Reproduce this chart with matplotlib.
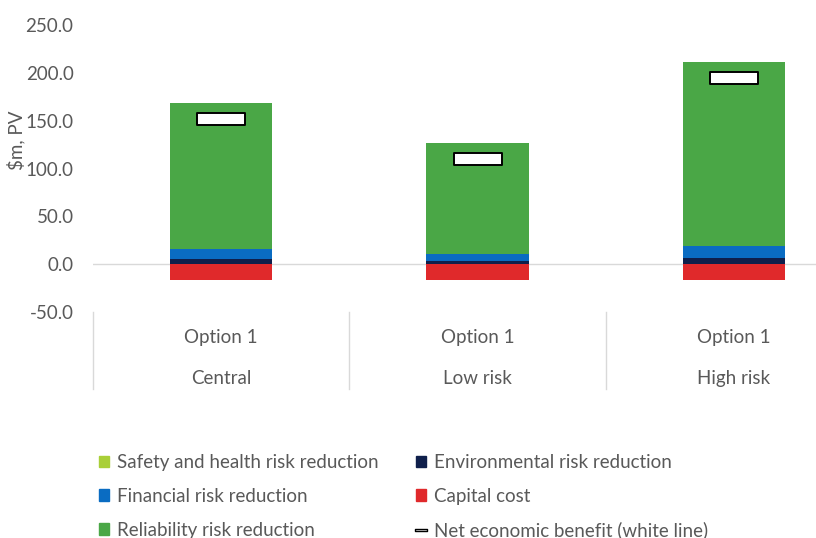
import matplotlib.pyplot as plt
import numpy as np
from matplotlib.lines import Line2D
from matplotlib.patches import Patch
from matplotlib.path import Path

plt.rcParams['font.family'] = ['Lato', 'DejaVu Sans']

# data ($m, PV)
options = ['Option 1', 'Option 1', 'Option 1']
scenarios = ['Central', 'Low risk', 'High risk']
safety = [0.3, 0.3, 0.3]
environmental = [5.0, 3.0, 6.5]
financial = [10.5, 7.5, 12.5]
reliability = [153.0, 116.0, 192.0]
capital = [-16.5, -16.5, -16.5]
net_benefit = [152.0, 110.0, 195.0]

c_safety = '#a9cf38'
c_env = '#0f1f4b'
c_fin = '#0a6cc2'
c_cap = '#e0292b'
c_rel = '#4aa746'
txt = '#595959'
fs = 13.5

fig = plt.figure(figsize=(8.16, 5.38), dpi=100)
ax = fig.add_axes([93 / 816, 226 / 538, 769 / 816, 287 / 538])

x = np.arange(len(scenarios))
w = 0.4
bottom = np.zeros(len(x))
for vals, col in [(safety, c_safety), (environmental, c_env), (financial, c_fin), (reliability, c_rel)]:
    ax.bar(x, vals, w, bottom=bottom, color=col, zorder=3)
    bottom += np.array(vals)
ax.bar(x, capital, w, color=c_cap, zorder=3)

# white line marker for net benefit
rect = Path([(-1, -0.23), (1, -0.23), (1, 0.23), (-1, 0.23), (-1, -0.23)],
            [Path.MOVETO, Path.LINETO, Path.LINETO, Path.LINETO, Path.CLOSEPOLY])
ax.plot(x, net_benefit, ls='none', marker=rect, markersize=35, mfc='white',
        mec='black', mew=1.4, zorder=4)

ax.axhline(0, color='#d9d9d9', lw=1, zorder=2)
ax.set_xlim(-0.5, 2.5)
ax.set_ylim(-50, 250)
ax.set_yticks(np.arange(-50, 251, 50))
ax.set_yticklabels(['{:.1f}'.format(v) for v in np.arange(-50, 251, 50)])
ax.tick_params(axis='y', length=0, pad=14, labelsize=fs, labelcolor=txt)
ax.set_xticks([])
for s in ax.spines.values():
    s.set_visible(False)

ax.set_ylabel('\\$m, PV', fontsize=fs, color=txt)
ax.yaxis.set_label_coords(-0.088, 0.6)

# two level category axis
for i in x:
    ax.text(i, -0.09, options[i], transform=ax.get_xaxis_transform(), ha='center',
            va='center', fontsize=fs, color=txt)
    ax.text(i, -0.23, scenarios[i], transform=ax.get_xaxis_transform(), ha='center',
            va='center', fontsize=fs, color=txt)
for b in np.arange(-0.5, 3, 1):
    ax.plot([b, b], [0, -0.27], transform=ax.get_xaxis_transform(), color='#d9d9d9',
            lw=1, clip_on=False)

handles = [Patch(color=c_safety), Patch(color=c_fin), Patch(color=c_rel),
           Patch(color=c_env), Patch(color=c_cap),
           Line2D([], [], ls='none', marker=rect, markersize=9, mfc='white', mec='black', mew=1)]
labels = ['Safety and health risk reduction', 'Financial risk reduction', 'Reliability risk reduction',
          'Environmental risk reduction', 'Capital cost', 'Net economic benefit (white line)']
leg = fig.legend(handles, labels, ncol=2, loc='upper left', bbox_to_anchor=(82 / 816, 1 - 437 / 538),
                 frameon=False, fontsize=fs, handlelength=0.55, handleheight=0.55, handletextpad=0.4,
                 labelspacing=0.9, columnspacing=2.0)
for t in leg.get_texts():
    t.set_color(txt)

fig.savefig('out.png', dpi=100)
